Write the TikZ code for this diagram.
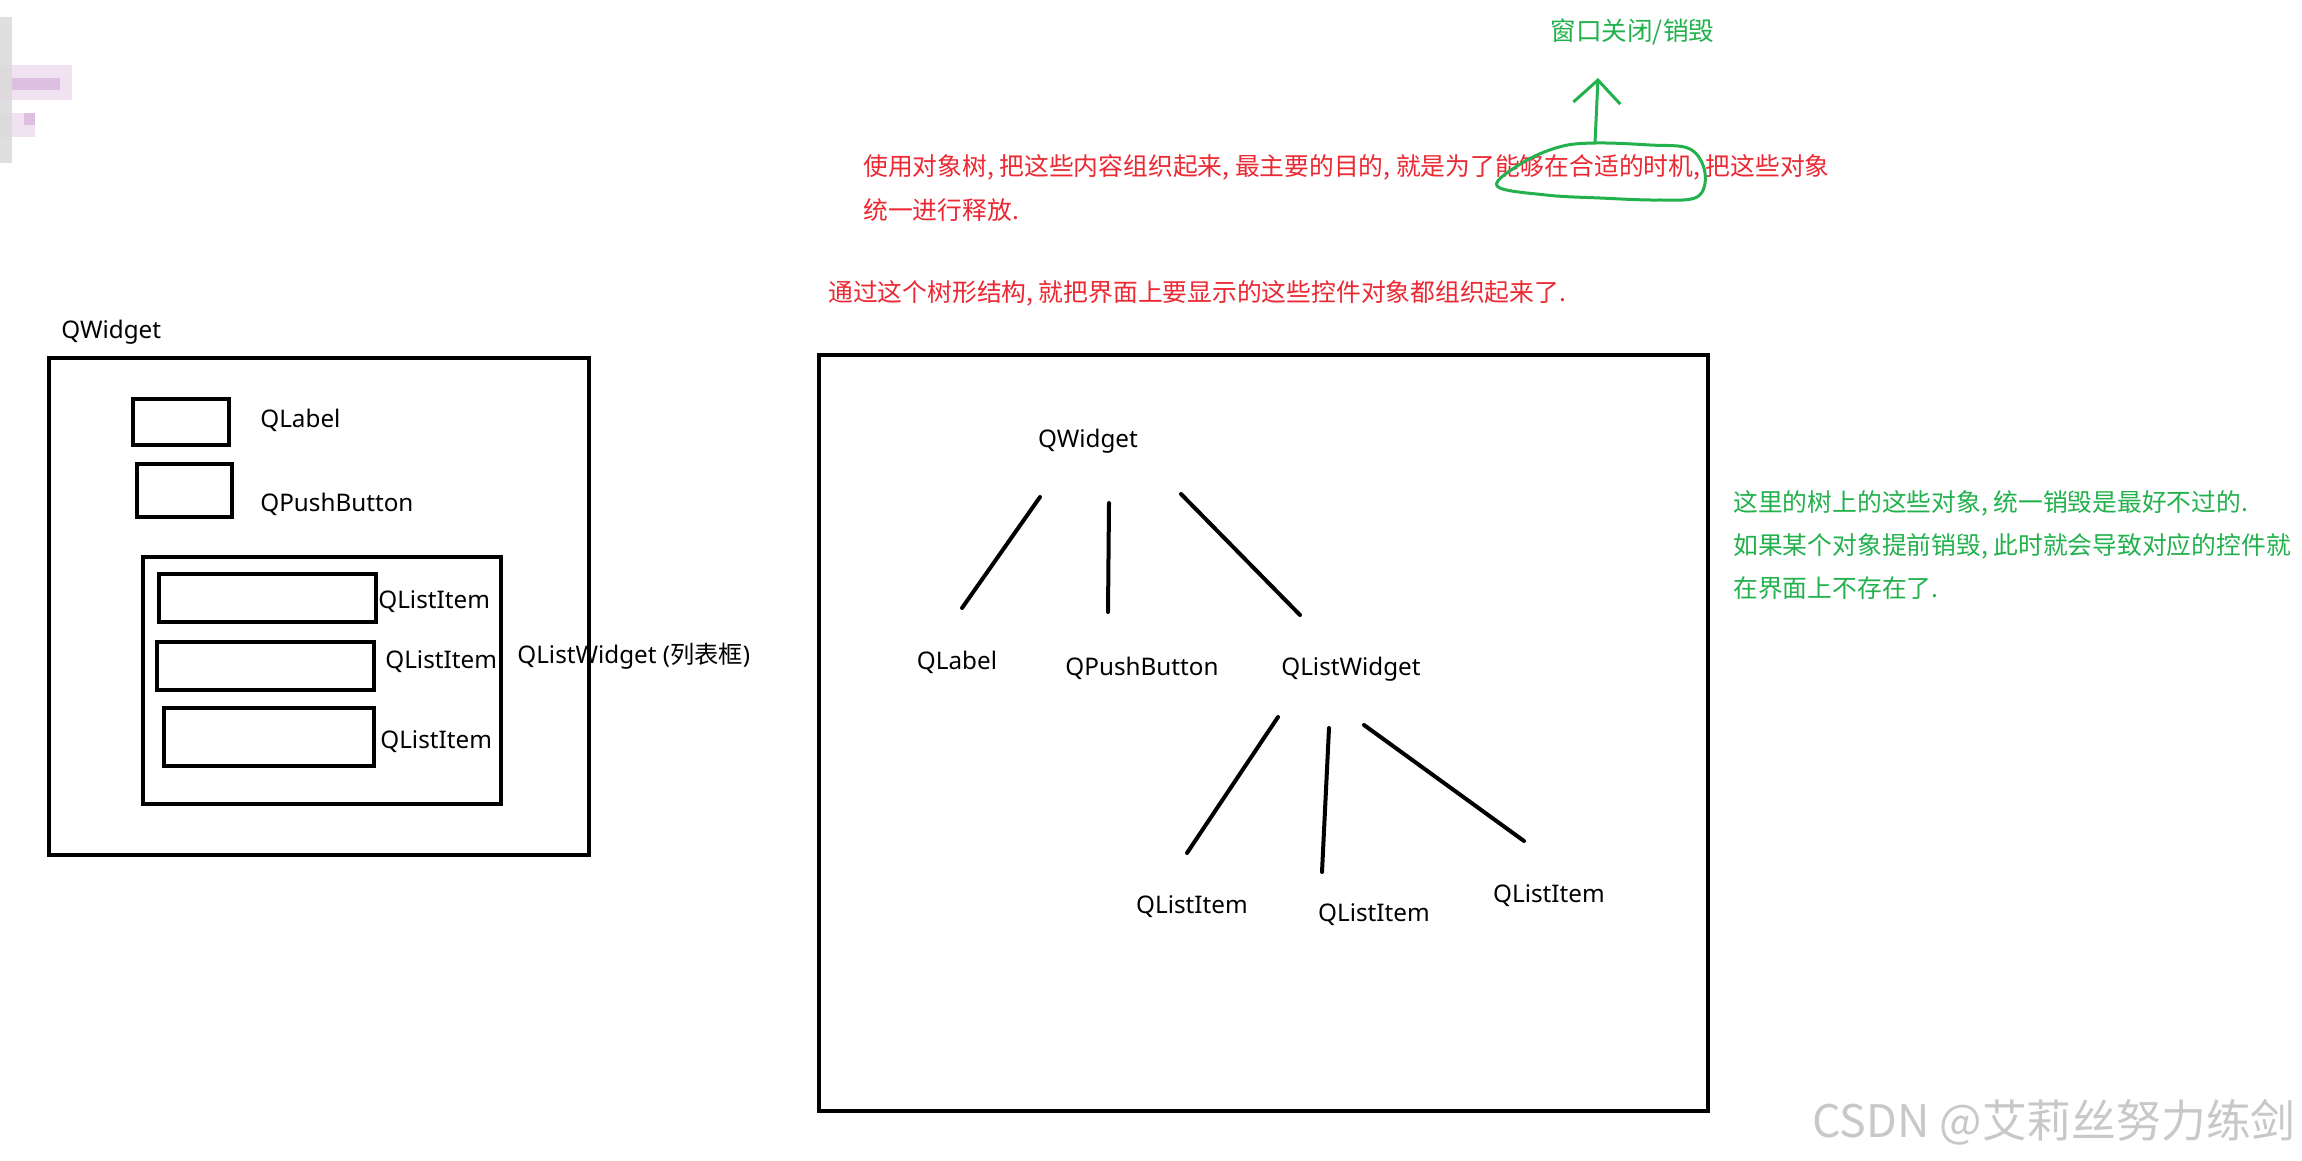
\documentclass[tikz,border=0pt]{standalone}
\usepackage{fontspec}
\setmainfont{Noto Sans}
\newfontfamily\cjk{Noto Sans CJK SC}
\usetikzlibrary{arrows.meta}
\definecolor{annred}{RGB}{236,40,50}
\definecolor{anngreen}{RGB}{34,177,76}
\definecolor{wmgray}{RGB}{200,200,200}
\definecolor{blurgray}{RGB}{216,216,216}
\definecolor{blurpurA}{RGB}{240,226,240}
\definecolor{blurpurB}{RGB}{222,190,225}
\begin{document}
\begin{tikzpicture}[x=0.02cm,y=-0.02cm,
  box/.style={draw=black,line width=0.075cm},
  lbl/.style={inner sep=0pt,font=\fontsize{13.8}{16}\selectfont},
  redtxt/.style={inner sep=0pt,anchor=west,text=annred,font=\cjk\fontsize{14.1}{16}\selectfont},
  greentxt/.style={inner sep=0pt,anchor=west,text=anngreen,font=\cjk\fontsize{14.1}{16}\selectfont},
  treeline/.style={line width=0.08cm,line cap=round},
  greenline/.style={draw=anngreen,line width=0.06cm,line cap=round,line join=round}]
\useasboundingbox (0,0) rectangle (2302,1160);
\fill[white] (0,0) rectangle (2302,1160);

% blurred fragment at top left
\fill[blurpurA] (0,65) rectangle (72,100);
\fill[blurpurB] (12,78) rectangle (60,90);
\fill[blurpurA] (0,113) rectangle (35,137);
\fill[blurpurB] (24,113) rectangle (35,125);
\fill[blurgray,opacity=0.8] (0,17) rectangle (12,163);

% ---------- left: nested widgets ----------
\node[lbl,anchor=west] (lwidget) at (61,332) {QWidget};
\draw[box] (49,358) rectangle (589,855);
\draw[box] (133,399) rectangle (229,445);
\node[lbl,anchor=west] (llabel) at (260,420) {QLabel};
\draw[box] (137,464) rectangle (232,517);
\node[lbl,anchor=west] (lpush) at (260,504) {QPushButton};
\draw[box] (143,557) rectangle (501,804);
\draw[box] (159,574) rectangle (376,622);
\node[lbl,anchor=west] (litem1) at (378,602) {QListItem};
\draw[box] (157,642) rectangle (374,690);
\node[lbl,anchor=west] (litem2) at (385,662) {QListItem};
\draw[box] (164,708) rectangle (374,766);
\node[lbl,anchor=west] (litem3) at (380,742) {QListItem};
\node[lbl,anchor=west] (llist) at (517,656) {QListWidget ({\cjk 列表框})};

% ---------- right: object tree ----------
\draw[box] (819,355) rectangle (1708,1111);
\node[lbl] (qw) at (1088,441) {QWidget};
\node[lbl] (ql) at (957,662) {QLabel};
\node[lbl] (qp) at (1142,668) {QPushButton};
\node[lbl] (qlw) at (1351,669) {QListWidget};
\node[lbl] (qi1) at (1192,907) {QListItem};
\node[lbl] (qi2) at (1374,915) {QListItem};
\node[lbl] (qi3) at (1549,896) {QListItem};

\coordinate (e1a) at (1040,497); \coordinate (e1b) at (962,608);
\coordinate (e2a) at (1109,503); \coordinate (e2b) at (1108,612);
\coordinate (e3a) at (1181,494); \coordinate (e3b) at (1300,615);
\coordinate (e4a) at (1278,717); \coordinate (e4b) at (1187,853);
\coordinate (e5a) at (1329,728); \coordinate (e5b) at (1322,872);
\coordinate (e6a) at (1364,725); \coordinate (e6b) at (1524,841);
\draw[treeline] (e1a) -- (e1b);
\draw[treeline] (e2a) -- (e2b);
\draw[treeline] (e3a) -- (e3b);
\draw[treeline] (e4a) -- (e4b);
\draw[treeline] (e5a) -- (e5b);
\draw[treeline] (e6a) -- (e6b);

% ---------- annotations ----------
\node[redtxt] (red1) at (863,167) {使用对象树, 把这些内容组织起来, 最主要的目的, 就是为了能够在合适的时机, 把这些对象};
\node[redtxt] (red2) at (863,210) {统一进行释放.};
\node[redtxt] (red3) at (828,293) {通过这个树形结构, 就把界面上要显示的这些控件对象都组织起来了.};

\node[greentxt,font=\cjk\fontsize{14.6}{18}\selectfont] (destroy) at (1550,32) {窗口关闭/销毁};
\draw[greenline] plot[smooth cycle,tension=0.6] coordinates {
  (1497,186) (1522,163) (1559,147) (1595,143) (1650,145) (1690,149)
  (1705,173) (1697,197) (1657,200) (1600,198) (1546,195)};
\coordinate (arrtail) at (1595,143);
\coordinate (arrtip) at (1598,78);
\draw[greenline,-{Straight Barb[length=0.46cm,width=0.94cm,line width=0.06cm]}] (arrtail) -- (arrtip);

\node[greentxt] (g1) at (1733,503) {这里的树上的这些对象, 统一销毁是最好不过的.};
\node[greentxt] (g2) at (1733,546) {如果某个对象提前销毁, 此时就会导致对应的控件就};
\node[greentxt] (g3) at (1733,588) {在界面上不存在了.};

% watermark
\node[inner sep=0pt,anchor=west,text=wmgray,font=\cjk\fontsize{25.5}{28}\selectfont] (wm) at (1812,1122) {CSDN @艾莉丝努力练剑};
\end{tikzpicture}
\end{document}
